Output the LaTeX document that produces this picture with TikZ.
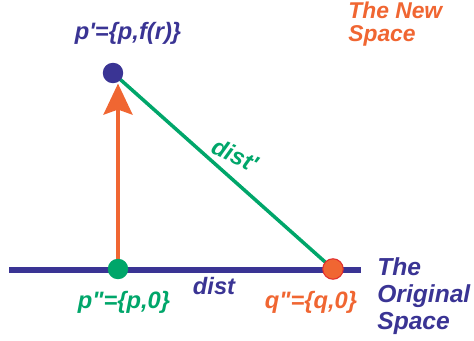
\documentclass[tikz,border=0pt]{standalone}
\usepackage{fontspec}
\setmainfont{Liberation Sans}
\usetikzlibrary{arrows.meta, backgrounds}
\definecolor{spaceblue}{RGB}{58,52,148}
\definecolor{spacegreen}{RGB}{0,166,106}
\definecolor{spaceorange}{RGB}{240,102,50}
\definecolor{dotred}{RGB}{225,45,45}

\begin{document}
\begin{tikzpicture}[x=0.02cm, y=-0.02cm,
  dot/.style={circle, inner sep=0pt, minimum size=0.41cm},
  lbl/.style={font=\fontsize{13.5}{15}\selectfont\bfseries\itshape, inner sep=0pt}]
 \useasboundingbox (0,0) rectangle (474,341);
 % points
 \node[dot, fill=spaceblue] (pnew) at (113,73){};
 \node[dot, fill=spacegreen] (pzero) at (118,269){};
 \node[dot, fill=spaceorange, draw=dotred, line width=0.6pt] (qzero) at (333,269){};
 \coordinate (axisL) at (9,270);
 \coordinate (axisR) at (361,270);
 % labels
 \node[lbl, text=spaceblue, anchor=base] (pnewlbl) at (128,40){p\textquotesingle=\{p,f(r)\}};
 \node[lbl, text=spacegreen, anchor=base] (pzerolbl) at (124,309){p\textquotedbl=\{p,0\}};
 \node[lbl, text=spaceorange, anchor=base] (qzerolbl) at (311,309){q\textquotedbl=\{q,0\}};
 \node[lbl, text=spaceblue, anchor=base] (distlbl) at (214,295){dist};
 \node[lbl, text=spacegreen, rotate=-25] (distnewlbl) at (235,155){dist\textquotesingle};
 \node[lbl, font=\fontsize{13}{12.8}\selectfont\bfseries\itshape, text=spaceorange, align=left, anchor=north west] (newspace) at (348,2){The New\\Space};
 \node[lbl, font=\fontsize{14}{15.6}\selectfont\bfseries\itshape, text=spaceblue, align=left, anchor=north west] (origspace) at (377,257){The\\Original\\Space};
 % connectors
 \begin{scope}[on background layer]
  \draw[spaceblue, line width=3.2pt] (axisL) -- (axisR);
  \draw[spacegreen, line width=2pt] (pnew.center) -- (qzero.center);
  \draw[spaceorange, line width=2pt, -{Stealth[length=0.62cm, width=0.58cm, inset=0.1cm]}] (pzero.center) -- (pzero |- pnew.south);
 \end{scope}
\end{tikzpicture}
\end{document}
